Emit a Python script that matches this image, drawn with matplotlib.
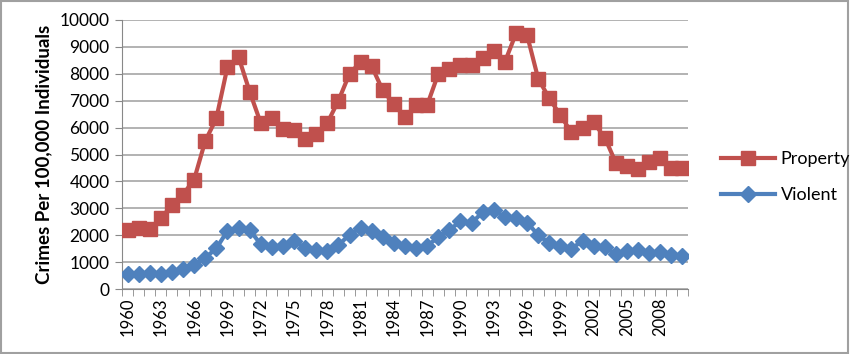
import matplotlib
matplotlib.use("Agg")
import matplotlib.pyplot as plt
from matplotlib.patches import Rectangle
import numpy as np

plt.rcParams['font.family'] = ['Lato', 'DejaVu Sans']

years = list(range(1960, 2011))

property_rate = [2200, 2260, 2220, 2630, 3110, 3510, 4070, 5500, 6340, 8250,
                 8630, 7340, 6170, 6340, 5940, 5900, 5590, 5780, 6170, 7000,
                 8000, 8440, 8280, 7380, 6880, 6380, 6840, 6840, 8000, 8190,
                 8310, 8310, 8590, 8850, 8440, 9500, 9440, 7820, 7090, 6460,
                 5820, 6000, 6190, 5630, 4690, 4570, 4470, 4720, 4880, 4510,
                 4510]

violent_rate = [550, 570, 600, 570, 640, 760, 890, 1160, 1510, 2160,
                2250, 2200, 1660, 1550, 1600, 1800, 1510, 1450, 1420, 1630,
                2020, 2280, 2160, 1950, 1720, 1600, 1510, 1610, 1920, 2200,
                2510, 2450, 2860, 2950, 2660, 2630, 2470, 2010, 1700, 1600,
                1490, 1800, 1600, 1550, 1300, 1420, 1450, 1350, 1390, 1260,
                1220]

# every third year gets a label
label_years = years[::3]

fig = plt.figure(figsize=(8.5, 3.54), dpi=100)
ax = fig.add_axes([122 / 850, 1 - 289 / 354, 566 / 850, 269 / 354])

red = '#C0504D'
blue = '#4F81BD'
ax.plot(years, property_rate, color=red, lw=3, marker='s', ms=10,
        label='Property', zorder=3)
ax.plot(years, violent_rate, color=blue, lw=3, marker='D', ms=8,
        label='Violent', zorder=3)

ax.set_xlim(1959.5, 2010.5)
ax.set_ylim(0, 10000)
ax.set_yticks(range(0, 10001, 1000))
ax.yaxis.grid(True, color='#a6a6a6', lw=1.2)
ax.set_axisbelow(True)

ax.set_xticks(label_years)
ax.set_xticklabels([str(y) for y in label_years], rotation=90)
ax.set_xticks(np.arange(1959.5, 2011, 1), minor=True)
ax.tick_params(axis='x', which='major', length=0, pad=6, labelsize=12)
ax.tick_params(axis='x', which='minor', length=5, color='#888888', direction='out')
ax.tick_params(axis='y', length=5, color='#888888', labelsize=12.5, pad=4)

for side in ['top', 'right']:
    ax.spines[side].set_visible(False)
ax.spines['left'].set_color('#888888')
ax.spines['bottom'].set_color('#888888')

ax.set_ylabel('Crimes Per 100,000 Individuals', fontsize=13.5, fontweight='bold',
              labelpad=5)

fig.legend(loc='center left', bbox_to_anchor=(705 / 850, 1 - 177 / 354),
           frameon=False, fontsize=13, handlelength=3, labelspacing=1.1,
           handletextpad=0.3)

fig.patches.append(Rectangle((0.001, 0.002), 0.997, 0.995, transform=fig.transFigure,
                             fill=False, edgecolor='#a0a0a0', lw=1.5))

fig.savefig('out.png', dpi=100)
